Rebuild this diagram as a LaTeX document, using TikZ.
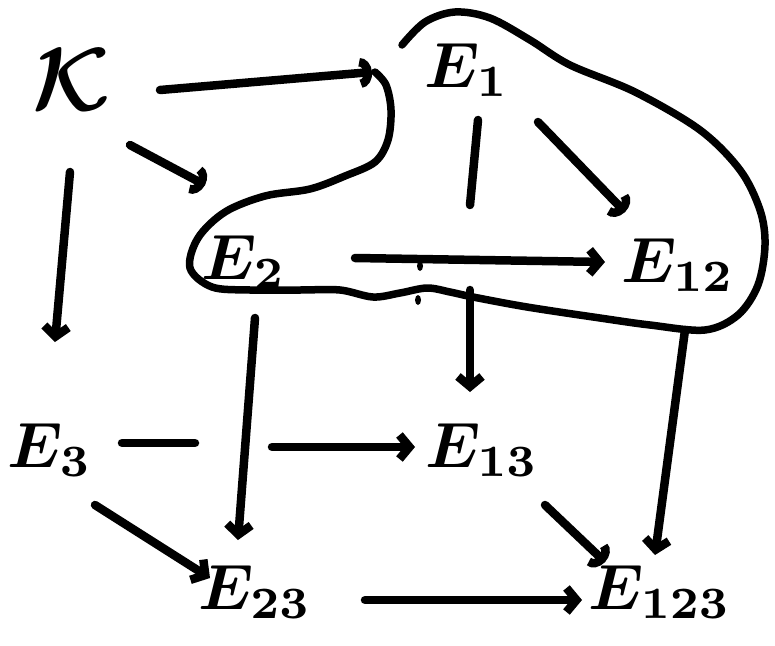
\documentclass[tikz,border=0pt]{standalone}
\usetikzlibrary{arrows.meta,calc}
\begin{document}
\begin{tikzpicture}[x=1pt,y=-1pt,
  lbl/.style={scale=6.4, inner sep=0pt, font=\boldmath},
  pen/.style={line width=8.5pt, line cap=round, line join=round},
  arr/.style={pen, -{Straight Barb[length=10pt,width=24pt,line width=8.5pt]}},
  hk/.style={pen, -{Arc Barb[length=12pt,width=30pt,line width=8.5pt]}}]
\useasboundingbox (0,0) rectangle (775,645);
\fill[white] (0,0) rectangle (775,645);
% nodes
\node[lbl,scale=1.4] (K) at (72,80) {$\mathcal{K}$};
\node[lbl] (E1) at (467,70) {$E_{1}$};
\node[lbl] (E2) at (244,262) {$E_{2}$};
\node[lbl] (E12) at (678,265) {$E_{12}$};
\node[lbl] (E3) at (50,450) {$E_{3}$};
\node[lbl] (E13) at (482,450) {$E_{13}$};
\node[lbl] (E23) at (255,592) {$E_{23}$};
\node[lbl] (E123) at (660,592) {$E_{123}$};
% blob
\draw[line width=7.5pt, line cap=round, line join=round]
  plot[smooth, tension=0.55] coordinates {
  (402,45) (425,22) (455,12) (490,18) (530,40) (570,65) (635,92) (700,130)
  (740,170) (760,210) (765,245) (758,285) (738,315) (705,330) (650,325)
  (600,318) (527,307) (473,297) (450,292) (427,288) (400,293) (373,297)
  (340,290) (300,290) (250,290) (212,287) (190,268) (198,238) (225,212)
  (265,196) (310,189) (345,176) (375,162) (388,140) (391,110) (386,85) (375,72)};
% small pen marks
\fill (420,266) ellipse (3pt and 5pt);
\fill (418,300) ellipse (3pt and 5pt);
% connectors
\draw[hk] ($(K)+(88,10)$) -- ($(E1)+(-95,2)$);
\draw[hk] ($(K)+(58,65)$) -- ($(E2)+(-39,-77)$);
\draw[arr] ($(K)+(-2,92)$) -- ($(E3)+(5,-108)$);
\draw[hk] ($(E1)+(71,52)$) -- ($(E12)+(-53,-53)$);
\draw[pen] ($(E1)+(11,50)$) -- ($(E1)+(3,135)$);
\draw[arr] ($(E13)+(-12,-160)$) -- ($(E13)+(-12,-58)$);
\draw[arr] ($(E2)+(111,-4)$) -- ($(E12)+(-73,-3)$);
\draw[arr] ($(E2)+(11,56)$) -- ($(E23)+(-17,-52)$);
\draw[arr] ($(E12)+(7,65)$) -- ($(E123)+(-5,-37)$);
\draw[pen] ($(E3)+(72,-7)$) -- ($(E3)+(145,-7)$);
\draw[arr] ($(E13)+(-210,-3)$) -- ($(E13)+(-67,-3)$);
\draw[arr] ($(E3)+(45,55)$) -- ($(E23)+(-45,-14)$);
\draw[hk] ($(E13)+(63,55)$) -- ($(E123)+(-55,-30)$);
\draw[arr] ($(E23)+(110,8)$) -- ($(E123)+(-78,8)$);
\end{tikzpicture}
\end{document}
